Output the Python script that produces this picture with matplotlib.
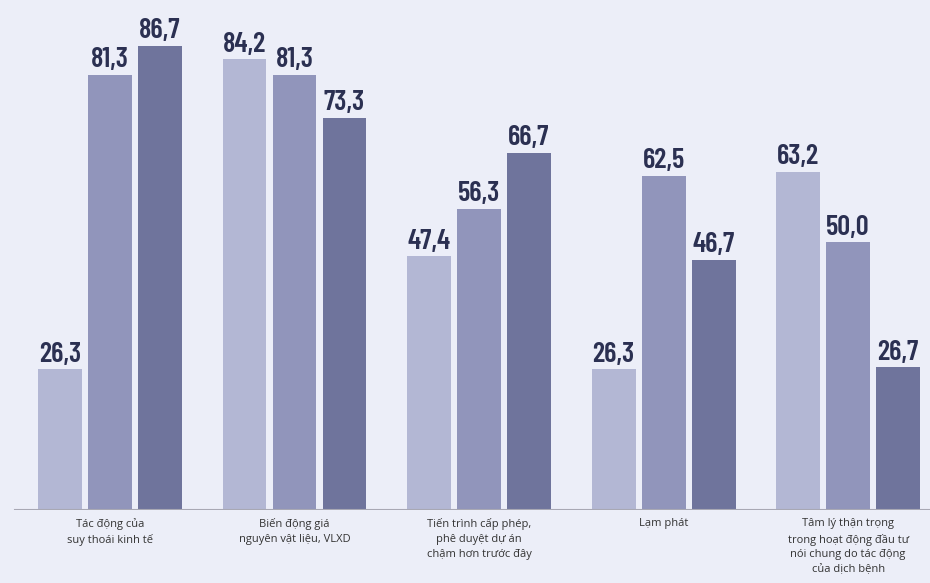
import matplotlib.pyplot as plt
import numpy as np

categories = [
    "Tác động của\nsuy thoái kinh tế",
    "Biến động giá\nnguyên vật liệu, VLXD",
    "Tiến trình cấp phép,\nphê duyệt dự án\nchậm hơn trước đây",
    "Lạm phát",
    "Tâm lý thận trọng\ntrong hoạt động đầu tư\nnói chung do tác động\ncủa dịch bệnh",
]
series_1 = [26.3, 84.2, 47.4, 26.3, 63.2]
series_2 = [81.3, 81.3, 56.3, 62.5, 50.0]
series_3 = [86.7, 73.3, 66.7, 46.7, 26.7]

COLORS = ["#b3b7d4", "#9195bb", "#6f749c"]
BG = "#eceef8"

fig = plt.figure(figsize=(9.30, 5.83), dpi=100, facecolor=BG)
ax = fig.add_axes([0.0, 0.125, 1.0, 0.875], facecolor=BG)

x = np.arange(len(categories))
width = 0.238
step = 0.271
for i, vals in enumerate([series_1, series_2, series_3]):
    offset = (i - 1) * step
    ax.bar(x + offset, vals, width, color=COLORS[i], zorder=2)
    for j, v in enumerate(vals):
        ax.text(x[j] + offset, v + 0.5, f"{v:.1f}".replace(".", ","),
                ha="center", va="bottom", fontsize=20.5, fontweight=600,
                color="#2b3052", family=["Barlow Condensed", "DejaVu Sans"])

ax.set_xlim(-0.596, 4.444)
ax.set_ylim(0, 95.3)
ax.axhline(0, xmin=0.016, xmax=1.0, color="#a8a8b4", lw=1.5, zorder=3)

ax.set_xticks(x)
ax.set_xticklabels(categories, fontsize=8, color="#333333", family=["Open Sans", "DejaVu Sans"],
                   linespacing=1.45)
ax.tick_params(axis="x", length=0, pad=6)
ax.set_yticks([])
for s in ax.spines.values():
    s.set_visible(False)

fig.savefig("out.png", dpi=100, facecolor=BG)
